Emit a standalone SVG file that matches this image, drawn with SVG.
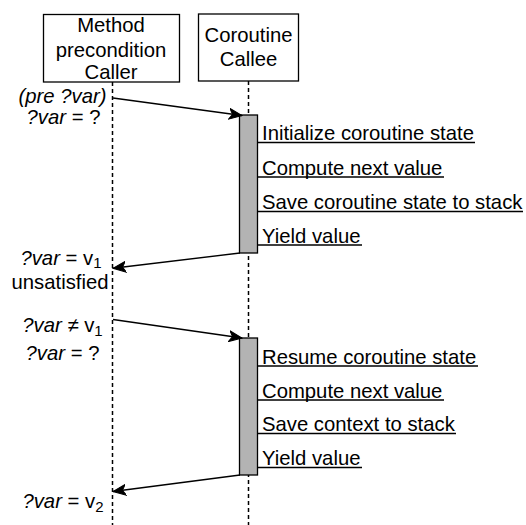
<svg xmlns="http://www.w3.org/2000/svg" width="526" height="525" viewBox="0 0 526 525">
  <style>
    text { font-family: "Liberation Sans", Arial, Helvetica, sans-serif; font-size: 20.3px; fill: #000; }
    .c { text-anchor: middle; }
    .i { font-style: italic; }
    .sub { font-size: 15px; }
    .box { fill: #fff; stroke: #000; stroke-width: 1.3; }
    .life { fill: none; stroke: #000; stroke-width: 1.5; stroke-dasharray: 4 3; }
    .bar { fill: #b3b3b3; stroke: #000; stroke-width: 1.3; }
    .msg { fill: none; stroke: #000; stroke-width: 1.4; }
    .ul { fill: none; stroke: #000; stroke-width: 1.4; }
  </style>
  <defs>
    <marker id="arr" markerUnits="userSpaceOnUse" markerWidth="14" markerHeight="12" viewBox="0 0 14 12" refX="13" refY="6" orient="auto">
      <path d="M0,0.5 L13,6 L0,11.5 L3.5,6 Z" fill="#000" stroke="#000" stroke-width="1" stroke-linejoin="miter"/>
    </marker>
  </defs>

  <g id="lifelines">
    <line class="life" x1="112.5" y1="82" x2="112.5" y2="525"/>
    <line class="life" x1="248.5" y1="81" x2="248.5" y2="525"/>
  </g>

  <g id="caller">
    <rect class="box" x="43.5" y="14.5" width="136" height="67.5"/>
    <text class="c" x="111" y="31.5">Method</text>
    <text class="c" x="111" y="56.5">precondition</text>
    <text class="c" x="111" y="78.5">Caller</text>
  </g>

  <g id="callee">
    <rect class="box" x="198.5" y="14" width="100" height="67"/>
    <text class="c" x="248.5" y="42">Coroutine</text>
    <text class="c" x="248.5" y="66">Callee</text>
  </g>

  <g id="activation1">
    <rect class="bar" x="239.5" y="115" width="18" height="138"/>
  </g>
  <g id="activation2">
    <rect class="bar" x="239.5" y="338" width="18" height="137"/>
  </g>

  <g id="connectors">
    <line class="msg" x1="113" y1="98" x2="242" y2="115.5" marker-end="url(#arr)"/>
    <line class="msg" x1="240" y1="253" x2="113" y2="268.3" marker-end="url(#arr)"/>
    <line class="msg" x1="113" y1="319.5" x2="242" y2="338" marker-end="url(#arr)"/>
    <line class="msg" x1="240" y1="475" x2="113" y2="491.5" marker-end="url(#arr)"/>
  </g>

  <g id="steps1">
    <line class="ul" x1="257.5" y1="142.5" x2="475" y2="142.5"/>
    <text x="262" y="140">Initialize coroutine state</text>
    <line class="ul" x1="257.5" y1="177" x2="444" y2="177"/>
    <text x="262" y="174.5">Compute next value</text>
    <line class="ul" x1="257.5" y1="211.5" x2="523" y2="211.5"/>
    <text x="262" y="209">Save coroutine state to stack</text>
    <line class="ul" x1="257.5" y1="245" x2="362" y2="245"/>
    <text x="262" y="242.5">Yield value</text>
  </g>

  <g id="steps2">
    <line class="ul" x1="257.5" y1="366" x2="478" y2="366"/>
    <text x="262" y="363.5">Resume coroutine state</text>
    <line class="ul" x1="257.5" y1="400" x2="444" y2="400"/>
    <text x="262" y="397.5">Compute next value</text>
    <line class="ul" x1="257.5" y1="433.5" x2="456" y2="433.5"/>
    <text x="262" y="431">Save context to stack</text>
    <line class="ul" x1="257.5" y1="467.5" x2="362" y2="467.5"/>
    <text x="262" y="465">Yield value</text>
  </g>

  <g id="caller-labels">
    <text class="c i" x="62.5" y="102.5">(pre ?var)</text>
    <text class="c" x="63.5" y="124"><tspan class="i">?var</tspan> = ?</text>
    <text class="c" x="61" y="264.5"><tspan class="i">?var</tspan> = v<tspan class="sub" dy="3">1</tspan></text>
    <text class="c" x="60" y="289">unsatisfied</text>
    <text class="c" x="62.5" y="331.5"><tspan class="i">?var</tspan> ≠ v<tspan class="sub" dy="4">1</tspan></text>
    <text class="c" x="62.5" y="360"><tspan class="i">?var</tspan> = ?</text>
    <text class="c" x="63" y="507.5"><tspan class="i">?var</tspan> = v<tspan class="sub" dy="4">2</tspan></text>
  </g>
</svg>
